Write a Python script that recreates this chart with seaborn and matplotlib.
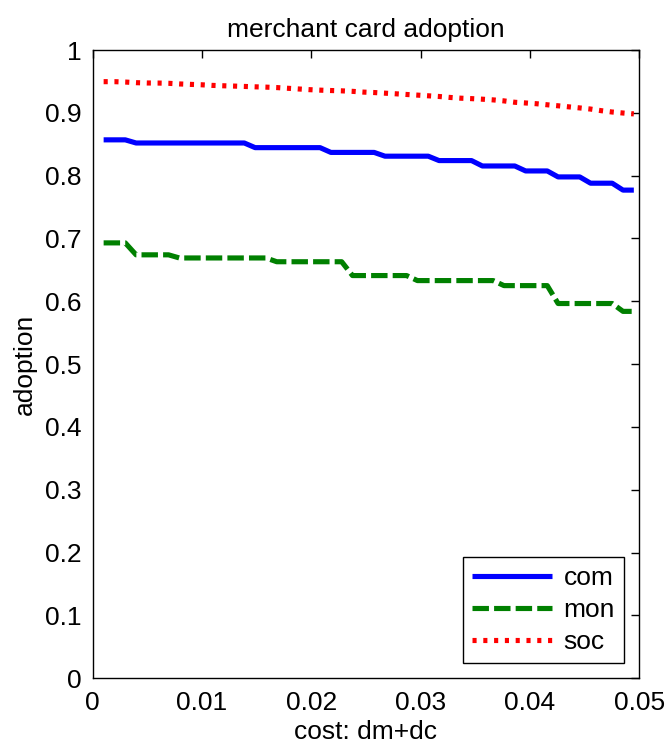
import numpy as np
import pandas as pd
import matplotlib
matplotlib.use("Agg")
import matplotlib.pyplot as plt
import seaborn as sns

# ---- data ----
cost = np.linspace(0.001, 0.0495, 50)

com = ([0.857] * 3 + [0.852] * 11 + [0.8446] * 7 + [0.837] * 5 + [0.831] * 5 +
       [0.824] * 4 + [0.8154] * 4 + [0.8075] * 3 + [0.798] * 3 + [0.788] * 3 + [0.777] * 2)

mon = ([0.693] * 3 + [0.674] * 4 + [0.669] * 9 + [0.663] * 7 + [0.641] * 6 +
       [0.633] * 8 + [0.625] * 5 + [0.5965] * 6 + [0.584] * 2)

soc = [0.9496, 0.9496, 0.9490, 0.9480, 0.9475, 0.9474, 0.9470, 0.9460, 0.9453, 0.9447,
       0.9437, 0.9431, 0.9426, 0.9420, 0.9414, 0.9409, 0.9402, 0.9391, 0.9380, 0.9369,
       0.9361, 0.9355, 0.9350, 0.9342, 0.9330, 0.9323, 0.9313, 0.9303, 0.9292, 0.9282,
       0.9271, 0.9260, 0.9245, 0.9233, 0.9226, 0.9217, 0.9206, 0.9190, 0.9168, 0.9157,
       0.9145, 0.9128, 0.9112, 0.9095, 0.9078, 0.9060, 0.9034, 0.9013, 0.8997, 0.8983]

series_names = ["com", "mon", "soc"]
x_ticks = [0, 0.01, 0.02, 0.03, 0.04, 0.05]
x_ticklabels = ["0", "0.01", "0.02", "0.03", "0.04", "0.05"]
y_ticks = [0, 0.1, 0.2, 0.3, 0.4, 0.5, 0.6, 0.7, 0.8, 0.9, 1.0]
y_ticklabels = ["0", "0.1", "0.2", "0.3", "0.4", "0.5", "0.6", "0.7", "0.8", "0.9", "1"]

df = pd.concat([
    pd.DataFrame({"cost": cost, "adoption": com, "type": "com"}),
    pd.DataFrame({"cost": cost, "adoption": mon, "type": "mon"}),
    pd.DataFrame({"cost": cost, "adoption": soc, "type": "soc"}),
], ignore_index=True)

# ---- style ----
sns.set_style("white")
plt.rcParams["font.family"] = ["Liberation Sans", "DejaVu Sans"]
plt.rcParams["text.color"] = "black"
plt.rcParams["axes.labelcolor"] = "black"
plt.rcParams["xtick.color"] = "black"
plt.rcParams["ytick.color"] = "black"
FS = 19

fig = plt.figure(figsize=(6.68, 7.52), dpi=100)
ax = fig.add_axes([92.7 / 668, 1 - 678.3 / 752, (639.3 - 92.7) / 668, (678.3 - 50) / 752])

palette = {"com": (0, 0, 1), "mon": (0, 0.5, 0), "soc": (1, 0, 0)}
dashes = {"com": "", "mon": (3.2, 1.0), "soc": (0.8, 1.3)}

sns.lineplot(data=df, x="cost", y="adoption", hue="type", style="type",
             hue_order=series_names, style_order=series_names,
             palette=palette, dashes=dashes, linewidth=3.7,
             estimator=None, sort=False, errorbar=None, legend=False, ax=ax)

for ln in ax.lines:
    ln.set_dash_capstyle("butt")
    ln.set_solid_capstyle("butt")

ax.set_xlim(0, 0.05)
ax.set_ylim(0, 1)
ax.set_xticks(x_ticks)
ax.set_xticklabels(x_ticklabels)
ax.set_yticks(y_ticks)
ax.set_yticklabels(y_ticklabels)
ax.tick_params(direction="in", length=6, width=1, top=True, right=True,
               labelsize=FS, colors="black")
ax.tick_params(axis="x", pad=9)
ax.tick_params(axis="y", pad=8)
for sp in ax.spines.values():
    sp.set_visible(True)
    sp.set_color("black")
    sp.set_linewidth(1.0)

ax.set_xlabel("cost: dm+dc", fontsize=FS, labelpad=4, color="black")
ax.set_ylabel("adoption", fontsize=FS, labelpad=6, color="black")
ax.set_title("merchant card adoption", fontsize=FS, pad=9, color="black")

leg = ax.legend(ax.lines[:3], series_names, loc="lower right",
                bbox_to_anchor=(0.972, 0.024), borderaxespad=0,
                fontsize=FS, frameon=True, fancybox=False, shadow=False,
                handlelength=3.0, handletextpad=0.45, labelspacing=0.3,
                borderpad=0.35)
leg.get_frame().set_edgecolor("black")
leg.get_frame().set_linewidth(1.0)
leg.get_frame().set_alpha(1)
for t in leg.get_texts():
    t.set_color("black")

fig.savefig("out.png", dpi=100)
